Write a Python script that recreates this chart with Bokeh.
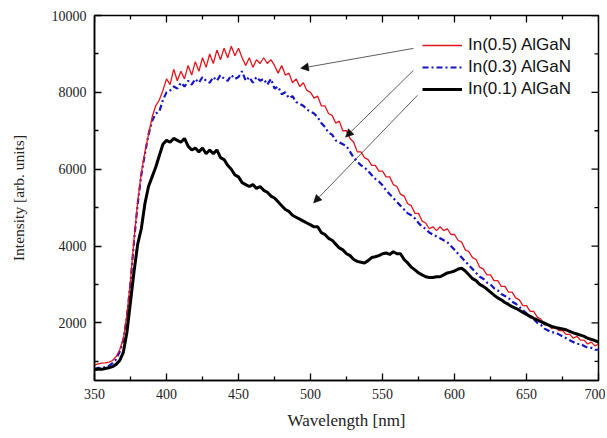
import numpy as np
from bokeh.plotting import figure
from bokeh.models import Legend, LegendItem, Arrow, NormalHead, Range1d, FixedTicker
from bokeh.embed import file_html
from bokeh.resources import INLINE

# ---------------- data ----------------
wavelength = np.arange(350, 700.01, 2.5)

in05 = [900, 930, 950, 960, 980, 1020, 1120, 1300, 1580, 2200,
        3100, 4200, 5150, 5900, 6450, 6900, 7350, 7650, 7800, 8050,
        8350, 8200, 8600, 8300, 8550, 8350, 8700, 8450, 8800, 8550,
        8900, 8650, 9000, 8750, 9100, 8850, 9150, 8900, 9200, 8950,
        9150, 8900, 8700, 8900, 8650, 8850, 8750, 8900, 8750, 8850,
        8700, 8500, 8700, 8450, 8500, 8250, 8350, 8150, 8250, 8050,
        8000, 7850, 7900, 7650, 7650, 7450, 7400, 7200, 7250, 7000,
        7000, 6800, 6700, 6450, 6450, 6300, 6250, 6100, 6100, 5950,
        5950, 5800, 5800, 5600, 5550, 5350, 5300, 5100, 5050, 4850,
        4850, 4650, 4600, 4450, 4500, 4400, 4500, 4400, 4450, 4300,
        4300, 4150, 4100, 3900, 3850, 3700, 3650, 3450, 3400, 3250,
        3250, 3100, 3100, 2950, 2950, 2800, 2800, 2650, 2600, 2450,
        2450, 2300, 2300, 2150, 2100, 1950, 1950, 1850, 1900, 1800,
        1800, 1700, 1700, 1600, 1650, 1550, 1550, 1450, 1500, 1400,
        1450]

in03 = [800, 830, 820, 850, 880, 950, 1050, 1250, 1550, 2150,
        3050, 4150, 5100, 5850, 6400, 6900, 7250, 7450, 7500, 7800,
        8000, 8050, 8150, 8100, 8250, 8150, 8300, 8200, 8350, 8250,
        8400, 8300, 8250, 8400, 8300, 8450, 8350, 8300, 8450, 8350,
        8400, 8550, 8300, 8400, 8250, 8400, 8300, 8350, 8200, 8350,
        8100, 8150, 7950, 8000, 7850, 7900, 7750, 7700, 7650, 7550,
        7500, 7450, 7350, 7200, 7100, 6950, 6900, 6750, 6700, 6650,
        6600, 6450, 6300, 6200, 6100, 6050, 5950, 5850, 5750, 5680,
        5580, 5450, 5350, 5250, 5150, 5050, 4950, 4850, 4800, 4720,
        4600, 4500, 4450, 4350, 4300, 4250, 4200, 4150, 4100, 4000,
        3900, 3800, 3700, 3600, 3500, 3400, 3300, 3200, 3150, 3050,
        3000, 2900, 2850, 2750, 2700, 2650, 2550, 2500, 2420, 2330,
        2250, 2150, 2100, 2000, 1950, 1850, 1800, 1750, 1750, 1700,
        1650, 1600, 1550, 1500, 1450, 1450, 1400, 1350, 1350, 1300,
        1300]

in01 = [780, 800, 790, 810, 830, 860, 920, 1020, 1230, 1750,
        2550, 3350, 4050, 4450, 5100, 5550, 5800, 6050, 6350, 6650,
        6750, 6700, 6800, 6750, 6700, 6800, 6600, 6500, 6550, 6450,
        6550, 6400, 6500, 6400, 6500, 6300, 6250, 6100, 6000, 5850,
        5800, 5650, 5600, 5550, 5600, 5500, 5550, 5450, 5400, 5300,
        5250, 5150, 5050, 4950, 4900, 4800, 4750, 4700, 4650, 4600,
        4550, 4500, 4500, 4350, 4300, 4200, 4150, 4050, 3950, 3900,
        3800, 3750, 3650, 3600, 3580, 3560, 3620, 3700, 3720, 3750,
        3800, 3820, 3780, 3850, 3800, 3800, 3650, 3560, 3450, 3380,
        3300, 3250, 3200, 3180, 3180, 3200, 3200, 3250, 3300, 3320,
        3350, 3400, 3420, 3350, 3250, 3150, 3100, 3000, 2950, 2880,
        2800, 2720, 2650, 2600, 2530, 2480, 2420, 2380, 2330, 2270,
        2220, 2170, 2120, 2080, 2030, 1990, 1950, 1910, 1880, 1860,
        1840, 1820, 1780, 1740, 1710, 1680, 1650, 1600, 1570, 1540,
        1500]

series_labels = ["In(0.5) AlGaN", "In(0.3) AlGaN", "In(0.1) AlGaN"]

x_major = [350, 400, 450, 500, 550, 600, 650, 700]
x_minor = [375, 425, 475, 525, 575, 625, 675]
y_major = [2000, 4000, 6000, 8000, 10000]
y_minor = [1000, 3000, 5000, 7000, 9000]

x_lo, x_hi = 350, 700
y_lo, y_hi = 500, 10000

# annotation arrows (legend -> curve), in data units
arrow_x_start = [571.5, 571.5, 574.3]
arrow_y_start = [9144, 8573, 7924]
arrow_x_end = [493.1, 524.3, 502.1]
arrow_y_end = [8625, 6834, 5121]

# ---------------- figure ----------------
p = figure(width=605, height=432, x_range=Range1d(x_lo, x_hi),
           y_range=Range1d(y_lo, y_hi), output_backend="svg",
           toolbar_location=None, min_border_left=94, min_border_top=15,
           min_border_right=7, min_border_bottom=51,
           x_axis_label="Wavelength [nm]", y_axis_label="Intensity [arb. units]")
p.xgrid.visible = False
p.ygrid.visible = False
p.outline_line_color = "black"
p.outline_line_width = 1.5
p.background_fill_color = "white"
p.border_fill_color = "white"

serif = "Liberation Serif"

def style_axis(ax, ticks, minor):
    ax.ticker = FixedTicker(ticks=ticks, minor_ticks=minor)
    ax.axis_line_color = "black"
    ax.axis_line_width = 1.5
    ax.major_tick_in = 7
    ax.major_tick_out = 0
    ax.minor_tick_in = 4
    ax.minor_tick_out = 0
    ax.major_tick_line_width = 1.3
    ax.minor_tick_line_width = 1.3
    ax.major_tick_line_color = "black"
    ax.minor_tick_line_color = "black"
    ax.major_label_text_font = serif
    ax.major_label_text_font_size = "14px"
    ax.major_label_text_color = "#222222"
    ax.major_label_standoff = 8
    ax.axis_label_text_font = serif
    ax.axis_label_text_font_style = "normal"
    ax.axis_label_text_color = "#222222"

style_axis(p.xaxis[0], x_major, x_minor)
style_axis(p.yaxis[0], y_major, y_minor)
p.xaxis[0].axis_label_text_font_size = "17px"
p.yaxis[0].axis_label_text_font_size = "15.5px"
p.xaxis[0].axis_label_standoff = 9
p.yaxis[0].axis_label_standoff = 22

# mirrored inward ticks on top and right edges
p.ray(x=x_major, y=[y_hi] * len(x_major), length=7, angle=-np.pi / 2,
      length_units="screen", line_color="black", line_width=1.3)
p.ray(x=x_minor, y=[y_hi] * len(x_minor), length=4, angle=-np.pi / 2,
      length_units="screen", line_color="black", line_width=1.3)
p.ray(x=[x_hi] * len(y_major), y=y_major, length=7, angle=np.pi,
      length_units="screen", line_color="black", line_width=1.3)
p.ray(x=[x_hi] * len(y_minor), y=y_minor, length=4, angle=np.pi,
      length_units="screen", line_color="black", line_width=1.3)

r_blue = p.line(wavelength, in03, line_color="#1414c8", line_width=2.2,
                line_dash="6 3 2 3")
r_red = p.line(wavelength, in05, line_color="#e3141c", line_width=1.3)
r_black = p.line(wavelength, in01, line_color="black", line_width=3)

legend = Legend(items=[LegendItem(label=series_labels[0], renderers=[r_red]),
                       LegendItem(label=series_labels[1], renderers=[r_blue]),
                       LegendItem(label=series_labels[2], renderers=[r_black])],
                location=(328, 280), glyph_width=40, glyph_height=22,
                label_height=22, label_standoff=6, padding=0, margin=0,
                spacing=0, border_line_color=None, background_fill_alpha=0,
                label_text_font="Liberation Sans", label_text_font_size="17px",
                label_text_color="#111111")
p.add_layout(legend)

for xs, ys, xe, ye in zip(arrow_x_start, arrow_y_start, arrow_x_end, arrow_y_end):
    p.add_layout(Arrow(end=NormalHead(size=8, fill_color="#111111",
                                      line_color="#111111", line_width=0.5),
                       x_start=xs, y_start=ys, x_end=xe, y_end=ye,
                       line_color="#333333", line_width=0.8))

open("out.html", "w").write(file_html(p, INLINE))
